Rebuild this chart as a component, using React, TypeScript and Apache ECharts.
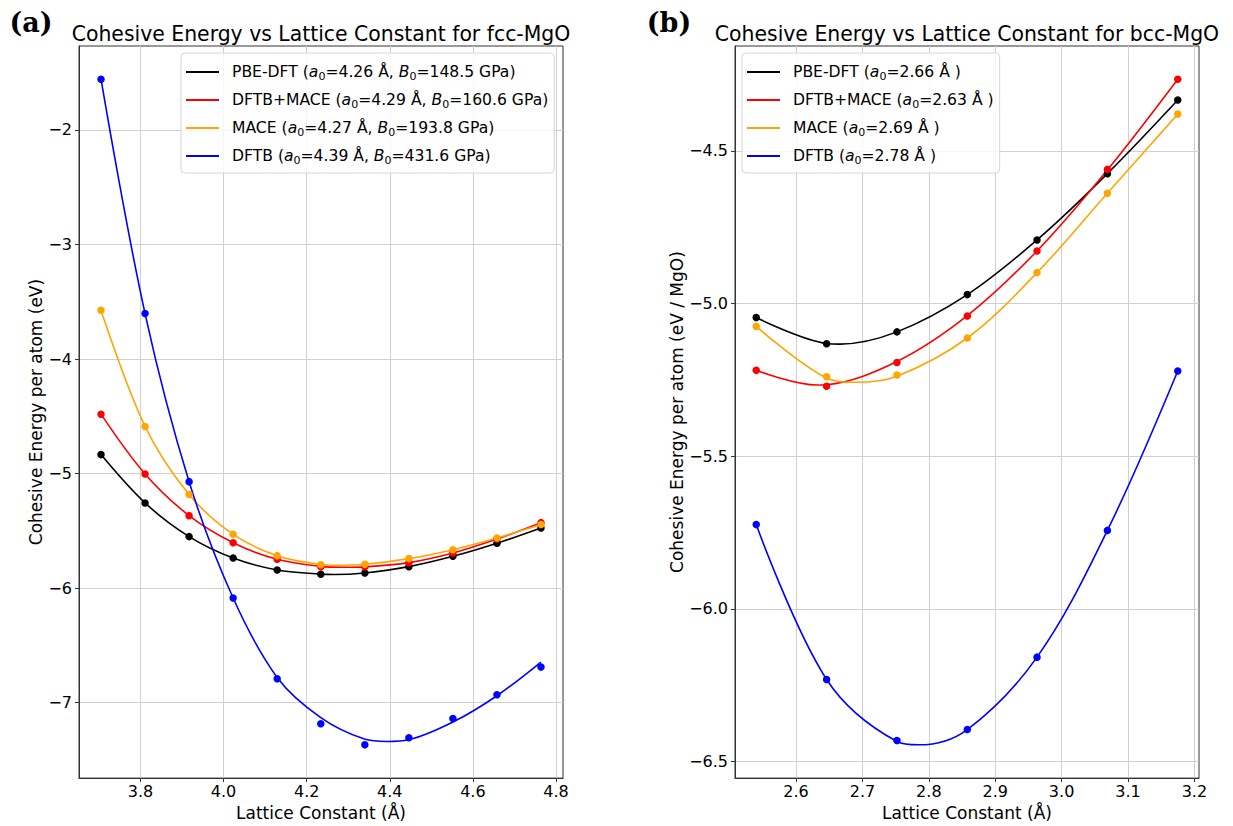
import React, { useEffect, useRef } from 'react';
import * as echarts from 'echarts';

// ---------- fcc-MgO (panel a) ----------
const fccX = [3.705, 3.811, 3.917, 4.023, 4.129, 4.234, 4.340, 4.446, 4.552, 4.658, 4.764];
const fccPBE = [-4.834, -5.256, -5.550, -5.737, -5.841, -5.879, -5.868, -5.812, -5.722, -5.608, -5.475];
const fccDFTBMACE = [-4.481, -5.003, -5.367, -5.603, -5.748, -5.812, -5.812, -5.777, -5.693, -5.571, -5.428];
const fccMACE = [-3.574, -4.588, -5.183, -5.530, -5.716, -5.795, -5.792, -5.742, -5.664, -5.562, -5.445];
const fccDFTB = [-1.557, -3.603, -5.070, -6.086, -6.790, -7.183, -7.367, -7.306, -7.137, -6.930, -6.689];

// fitted curves
const fccPBEFitX = [3.705, 3.811, 3.917, 4.023, 4.129, 4.234, 4.265, 4.340, 4.446, 4.552, 4.658, 4.764];
const fccPBEFitY = [-4.834, -5.256, -5.550, -5.737, -5.841, -5.877, -5.881, -5.867, -5.812, -5.722, -5.608, -5.475];
const fccDMFitX = [3.705, 3.811, 3.917, 4.023, 4.129, 4.234, 4.290, 4.340, 4.446, 4.552, 4.658, 4.764];
const fccDMFitY = [-4.481, -5.003, -5.367, -5.603, -5.748, -5.810, -5.818, -5.814, -5.777, -5.693, -5.571, -5.428];
const fccMACEFitX = [3.705, 3.811, 3.917, 4.023, 4.129, 4.234, 4.270, 4.340, 4.446, 4.552, 4.658, 4.764];
const fccMACEFitY = [-3.574, -4.588, -5.183, -5.530, -5.716, -5.793, -5.800, -5.791, -5.742, -5.664, -5.562, -5.445];
const fccDFTBFitX = [3.705, 3.811, 3.917, 4.023, 4.129, 4.234, 4.339, 4.393, 4.446, 4.552, 4.658, 4.764];
const fccDFTBFitY = [-1.557, -3.603, -5.070, -6.086, -6.779, -7.130, -7.317, -7.338, -7.323, -7.169, -6.939, -6.645];

// ---------- bcc-MgO (panel b) ----------
const bccX = [2.540, 2.646, 2.752, 2.858, 2.963, 3.069, 3.175];
const bccPBE = [-5.046, -5.132, -5.093, -4.971, -4.792, -4.575, -4.334];
const bccDFTBMACE = [-5.219, -5.271, -5.193, -5.041, -4.828, -4.561, -4.266];
const bccMACE = [-5.075, -5.240, -5.234, -5.113, -4.899, -4.639, -4.380];
const bccDFTB = [-5.724, -6.231, -6.431, -6.395, -6.158, -5.743, -5.221];

const bccPBEFitX = [2.540, 2.646, 2.666, 2.752, 2.858, 2.963, 3.069, 3.175];
const bccPBEFitY = [-5.046, -5.131, -5.133, -5.093, -4.971, -4.792, -4.575, -4.334];
const bccDMFitX = [2.540, 2.632, 2.646, 2.752, 2.858, 2.963, 3.069, 3.175];
const bccDMFitY = [-5.219, -5.267, -5.266, -5.190, -5.040, -4.828, -4.563, -4.266];
const bccMACEFitX = [2.540, 2.646, 2.690, 2.752, 2.858, 2.963, 3.069, 3.175];
const bccMACEFitY = [-5.075, -5.244, -5.258, -5.238, -5.113, -4.899, -4.639, -4.380];
const bccDFTBFitX = [2.540, 2.646, 2.752, 2.785, 2.858, 2.963, 3.069, 3.175];
const bccDFTBFitY = [-5.724, -6.231, -6.434, -6.445, -6.395, -6.158, -5.743, -5.221];

// ---------- ticks ----------
const fccXTicks = [3.8, 4.0, 4.2, 4.4, 4.6, 4.8];
const fccYTicks = [-7, -6, -5, -4, -3, -2];
const bccXTicks = [2.6, 2.7, 2.8, 2.9, 3.0, 3.1, 3.2];
const bccYTicks = [-6.5, -6.0, -5.5, -5.0, -4.5];

const COLORS = { pbe: '#000000', dm: '#ff0000', mace: '#ffa500', dftb: '#0000ff' };

const LEGEND_TEXT: Record<string, string> = {
  'fcc PBE-DFT': '{n|PBE-DFT (}{i|a}{s|0}{n|=4.26 Å, }{i|B}{s|0}{n|=148.5 GPa)}',
  'fcc DFTB+MACE': '{n|DFTB+MACE (}{i|a}{s|0}{n|=4.29 Å, }{i|B}{s|0}{n|=160.6 GPa)}',
  'fcc MACE': '{n|MACE (}{i|a}{s|0}{n|=4.27 Å, }{i|B}{s|0}{n|=193.8 GPa)}',
  'fcc DFTB': '{n|DFTB (}{i|a}{s|0}{n|=4.39 Å, }{i|B}{s|0}{n|=431.6 GPa)}',
  'bcc PBE-DFT': '{n|PBE-DFT (}{i|a}{s|0}{n|=2.66 Å )}',
  'bcc DFTB+MACE': '{n|DFTB+MACE (}{i|a}{s|0}{n|=2.63 Å )}',
  'bcc MACE': '{n|MACE (}{i|a}{s|0}{n|=2.69 Å )}',
  'bcc DFTB': '{n|DFTB (}{i|a}{s|0}{n|=2.78 Å )}',
};

const FONT = 'DejaVu Sans';
const minus = (s: string) => s.replace('-', '\u2212');

function pairs(xs: number[], ys: number[]) {
  return xs.map((x, i) => [x, ys[i]]);
}

function fit(name: string, xs: number[], ys: number[], color: string, idx: number) {
  return {
    type: 'line', name, xAxisIndex: idx, yAxisIndex: idx,
    data: pairs(xs, ys), smooth: 0.35,
    symbol: 'none', showSymbol: false,
    lineStyle: { color, width: 1.6 }, itemStyle: { color }, z: 2, silent: true,
  };
}
function pts(name: string, xs: number[], ys: number[], color: string, idx: number) {
  return {
    type: 'scatter', name, xAxisIndex: idx, yAxisIndex: idx,
    data: pairs(xs, ys), symbol: 'circle', symbolSize: 7.5,
    itemStyle: { color, opacity: 1 }, z: 3, silent: true,
  };
}

function xAxis(idx: number, min: number, max: number, ticks: number[]) {
  return {
    type: 'value', gridIndex: idx, min, max,
    name: 'Lattice Constant (Å)', nameLocation: 'middle', nameGap: 24,
    nameTextStyle: { color: '#000', fontFamily: FONT, fontSize: 17 },
    axisLine: { show: true, onZero: false, lineStyle: { color: '#333', width: 1 } },
    axisTick: { show: true, inside: false, length: 4, customValues: ticks, lineStyle: { color: '#333', width: 1 } },
    axisLabel: { show: true, customValues: ticks, margin: 5, color: '#000', fontFamily: FONT, fontSize: 16, formatter: (v: number) => v.toFixed(1) },
    splitLine: { show: true, lineStyle: { color: '#d0d0d0', width: 1 } },
  };
}
function yAxis(idx: number, min: number, max: number, ticks: number[], name: string, gap: number, dec: number) {
  return {
    type: 'value', gridIndex: idx, min, max,
    name, nameLocation: 'middle', nameGap: gap, nameRotate: 90,
    nameTextStyle: { color: '#000', fontFamily: FONT, fontSize: 17 },
    axisLine: { show: true, onZero: false, lineStyle: { color: '#333', width: 1 } },
    axisTick: { show: true, inside: false, length: 4, customValues: ticks, lineStyle: { color: '#333', width: 1 } },
    axisLabel: { show: true, customValues: ticks, margin: 7, color: '#000', fontFamily: FONT, fontSize: 16, formatter: (v: number) => minus(v.toFixed(dec)) },
    splitLine: { show: true, lineStyle: { color: '#d0d0d0', width: 1 } },
  };
}

function legend(names: string[], left: number) {
  return {
    data: names, orient: 'vertical', left, top: 53,
    icon: 'rect', itemWidth: 33, itemHeight: 1.8, itemGap: 8,
    padding: [9, 6, 7, 5], selectedMode: false,
    backgroundColor: 'rgba(255,255,255,0.8)', borderColor: '#d6d6d6', borderWidth: 1, borderRadius: 4,
    z: 10,
    formatter: (n: string) => LEGEND_TEXT[n] || n,
    textStyle: {
      color: '#000', fontFamily: FONT, fontSize: 15.6, padding: [0, 0, 0, 8], lineHeight: 20,
      rich: {
        n: { color: '#000', fontFamily: FONT, fontSize: 15.6, lineHeight: 20 },
        i: { color: '#000', fontFamily: FONT, fontSize: 15.6, fontStyle: 'italic', lineHeight: 20 },
        s: { color: '#000', fontFamily: FONT, fontSize: 11, lineHeight: 10, verticalAlign: 'bottom' },
      },
    },
  };
}

export default function App() {
  const ref = useRef<HTMLDivElement>(null);
  useEffect(() => {
    if (!ref.current) return;
    const chart = echarts.init(ref.current, null, { renderer: 'svg' });
    const option = {
      animation: false,
      backgroundColor: '#ffffff',
      grid: [
        { left: 79, top: 46, width: 484, height: 734, show: true, borderColor: '#333', borderWidth: 1, backgroundColor: 'transparent' },
        { left: 735, top: 46, width: 464, height: 734, show: true, borderColor: '#333', borderWidth: 1, backgroundColor: 'transparent' },
      ],
      xAxis: [
        xAxis(0, 3.652, 4.817, fccXTicks),
        xAxis(1, 2.508, 3.207, bccXTicks),
      ],
      yAxis: [
        yAxis(0, -7.658, -1.267, fccYTicks, 'Cohesive Energy per atom (eV)', 33, 0),
        yAxis(1, -6.554, -4.157, bccYTicks, 'Cohesive Energy per atom (eV / MgO)', 47, 1),
      ],
      legend: [
        legend(['fcc PBE-DFT', 'fcc DFTB+MACE', 'fcc MACE', 'fcc DFTB'], 181),
        legend(['bcc PBE-DFT', 'bcc DFTB+MACE', 'bcc MACE', 'bcc DFTB'], 742),
      ],
      graphic: [
        { type: 'text', x: 31, y: 22, style: { text: '(a)', fontFamily: 'DejaVu Serif', fontWeight: 'bold', fontSize: 27, fill: '#000', align: 'center', verticalAlign: 'middle' } },
        { type: 'text', x: 669, y: 22, style: { text: '(b)', fontFamily: 'DejaVu Serif', fontWeight: 'bold', fontSize: 27, fill: '#000', align: 'center', verticalAlign: 'middle' } },
        { type: 'text', x: 321, y: 34, style: { text: 'Cohesive Energy vs Lattice Constant for fcc-MgO', fontFamily: FONT, fontSize: 20.4, fill: '#000', align: 'center', verticalAlign: 'middle' } },
        { type: 'text', x: 967, y: 34, style: { text: 'Cohesive Energy vs Lattice Constant for bcc-MgO', fontFamily: FONT, fontSize: 20.4, fill: '#000', align: 'center', verticalAlign: 'middle' } },
      ],
      series: [
        fit('fcc PBE-DFT', fccPBEFitX, fccPBEFitY, COLORS.pbe, 0),
        pts('fcc PBE-DFT data', fccX, fccPBE, COLORS.pbe, 0),
        fit('fcc DFTB+MACE', fccDMFitX, fccDMFitY, COLORS.dm, 0),
        pts('fcc DFTB+MACE data', fccX, fccDFTBMACE, COLORS.dm, 0),
        fit('fcc MACE', fccMACEFitX, fccMACEFitY, COLORS.mace, 0),
        pts('fcc MACE data', fccX, fccMACE, COLORS.mace, 0),
        fit('fcc DFTB', fccDFTBFitX, fccDFTBFitY, COLORS.dftb, 0),
        pts('fcc DFTB data', fccX, fccDFTB, COLORS.dftb, 0),
        fit('bcc PBE-DFT', bccPBEFitX, bccPBEFitY, COLORS.pbe, 1),
        pts('bcc PBE-DFT data', bccX, bccPBE, COLORS.pbe, 1),
        fit('bcc DFTB+MACE', bccDMFitX, bccDMFitY, COLORS.dm, 1),
        pts('bcc DFTB+MACE data', bccX, bccDFTBMACE, COLORS.dm, 1),
        fit('bcc MACE', bccMACEFitX, bccMACEFitY, COLORS.mace, 1),
        pts('bcc MACE data', bccX, bccMACE, COLORS.mace, 1),
        fit('bcc DFTB', bccDFTBFitX, bccDFTBFitY, COLORS.dftb, 1),
        pts('bcc DFTB data', bccX, bccDFTB, COLORS.dftb, 1),
      ],
    };
    chart.setOption(option as any);
    return () => chart.dispose();
  }, []);
  return <div ref={ref} style={{ position: 'fixed', left: 0, top: 0, width: 1233, height: 826, background: '#fff' }} />;
}
